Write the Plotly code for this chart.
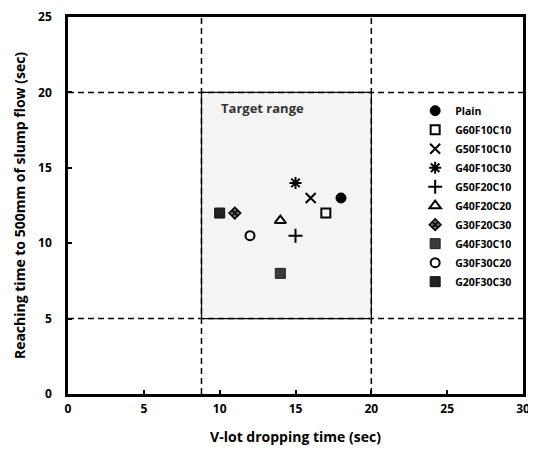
import plotly.graph_objects as go

series_names = ["Plain", "G60F10C10", "G50F10C10", "G40F10C30", "G50F20C10",
                "G40F20C20", "G30F20C30", "G40F30C10", "G30F30C20", "G20F30C30"]
v_lot_time = [18, 17, 16, 15, 15, 14, 11, 14, 12, 10]
slump_time = [13, 12, 13, 14, 10.5, 11.5, 12, 8, 10.5, 12]

target_x = [8.8, 20]
target_y = [5, 20]
x_ticks = [0, 5, 10, 15, 20, 25, 30]
y_ticks = [0, 5, 10, 15, 20, 25]

styles = [
    dict(symbol="circle", size=10, color="black", line=dict(color="black", width=1)),
    dict(symbol="square-open", size=9, color="black", line=dict(color="black", width=2)),
    dict(symbol="x-thin-open", size=10, color="black", line=dict(color="black", width=2)),
    dict(symbol="asterisk-open", size=10, color="black", line=dict(color="black", width=2)),
    dict(symbol="cross-thin-open", size=10, color="black", line=dict(color="black", width=2)),
    dict(symbol="triangle-up-open", size=10, color="black", line=dict(color="black", width=2)),
    dict(symbol="diamond-x", size=9, color="#666", line=dict(color="black", width=1.5)),
    dict(symbol="square", size=10, color="#3a3a3a", line=dict(color="#222", width=1)),
    dict(symbol="circle-open", size=9, color="black", line=dict(color="black", width=2)),
    dict(symbol="square", size=10, color="#222", line=dict(color="#111", width=1)),
]

FONT = "Open Sans"
fig = go.Figure()

for name, xv, yv, st in zip(series_names, v_lot_time, slump_time, styles):
    fig.add_trace(go.Scatter(x=[xv], y=[yv], mode="markers", name=name,
                             marker=st, cliponaxis=False))

# target box
fig.add_shape(type="rect", x0=target_x[0], x1=target_x[1], y0=target_y[0], y1=target_y[1],
              xref="x", yref="y", fillcolor="#f4f4f4", line=dict(color="black", width=1.2),
              layer="below")
dash = "6px,4px"
for yv in target_y:
    fig.add_shape(type="line", x0=x_ticks[0], x1=x_ticks[-1], y0=yv, y1=yv, xref="x", yref="y",
                  line=dict(color="black", width=1.5, dash=dash))
for xv in target_x:
    fig.add_shape(type="line", x0=xv, x1=xv, y0=y_ticks[0], y1=y_ticks[-1], xref="x", yref="y",
                  line=dict(color="black", width=1.5, dash=dash))

fig.add_annotation(x=12.85, y=18.95, xref="x", yref="y", text="Target range", showarrow=False,
                   font=dict(family=FONT, size=13, color="#333", weight="bold"))

axis_common = dict(showline=True, linecolor="black", linewidth=2.5, mirror=True,
                   ticks="inside", ticklen=4, tickwidth=2, tickcolor="black",
                   showgrid=False, zeroline=False, automargin=False,
                   ticklabeloverflow="allow",
                   tickfont=dict(family=FONT, size=12, color="black", weight="bold"))

fig.update_xaxes(range=[x_ticks[0], x_ticks[-1]], tickvals=x_ticks, **axis_common,
                 title=dict(text="V-lot dropping time (sec)", standoff=17,
                            font=dict(family=FONT, size=14, color="black", weight="bold")),
                 ticklabelstandoff=2)
fig.update_yaxes(range=[y_ticks[0], y_ticks[-1]], tickvals=y_ticks, **axis_common,
                 title=dict(text="Reaching time to 500mm of slump flow (sec)", standoff=10,
                            font=dict(family=FONT, size=14, color="black", weight="bold")),
                 ticklabelstandoff=11)

fig.update_layout(
    width=528, height=449,
    margin=dict(l=60, r=13, t=9, b=63),
    paper_bgcolor="white", plot_bgcolor="white",
    font=dict(family=FONT, color="black"),
    showlegend=True,
    legend=dict(x=0.763, y=0.79, xanchor="left", yanchor="top",
                bgcolor="rgba(0,0,0,0)", borderwidth=0, tracegroupgap=0,
                itemwidth=30,
                font=dict(family=FONT, size=10.5, color="black", weight="bold")),
)

fig.write_html("out.html")
